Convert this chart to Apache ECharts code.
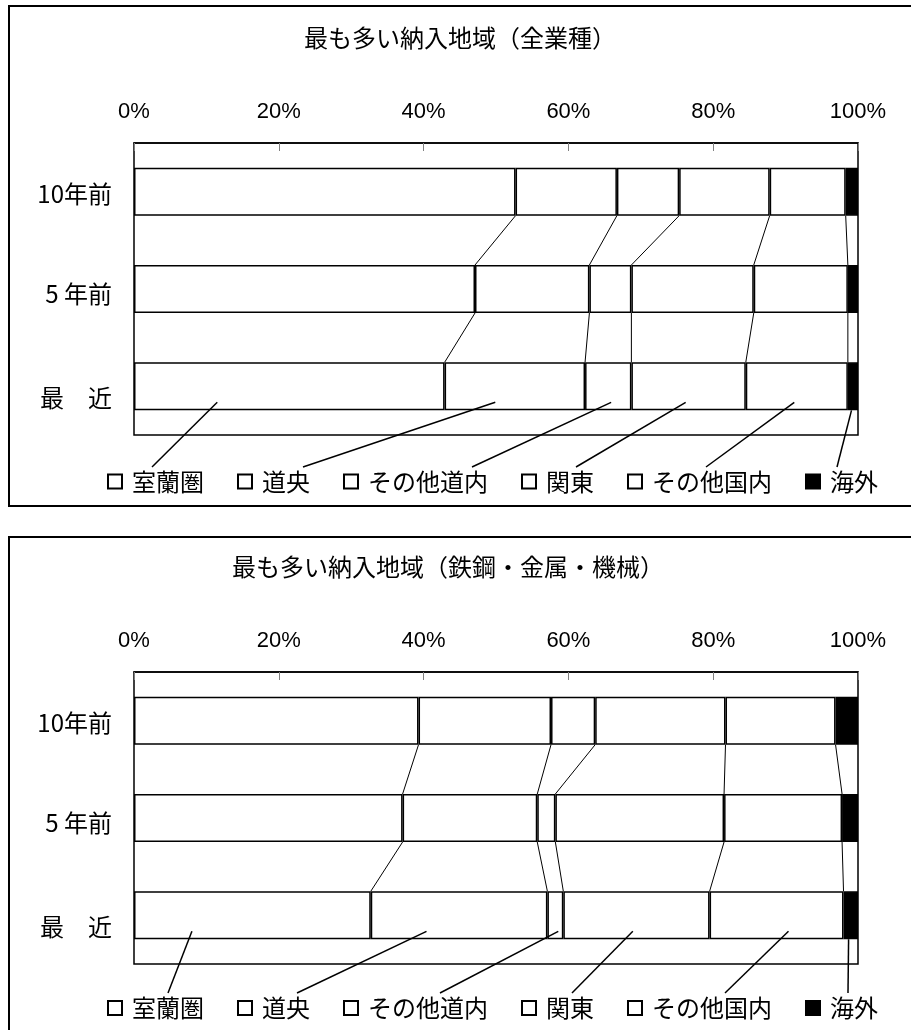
<!DOCTYPE html>
<html><head><meta charset="utf-8">
<script src="https://cdn.jsdelivr.net/npm/echarts@6/dist/echarts.min.js"></script>
<style>html,body{margin:0;padding:0;background:#fff}#c{width:911px;height:1030px}</style>
</head><body><div id="c"></div>
<script>
// ---- data ----
const categories = ['10年前', '5 年前', '最　近'];
const seriesNames = ['室蘭圏', '道央', 'その他道内', '関東', 'その他国内', '海外'];
const titleAll = '最も多い納入地域（全業種）';
const titleSteel = '最も多い納入地域（鉄鋼・金属・機械）';
const xTickStep = 20;

// 全業種 (%) : 10年前, 5年前, 最近
const allMuroran       = [52.7, 47.1, 42.9];
const allDoo           = [14.0, 15.8, 19.4];
const allOtherHokkaido = [8.6, 5.8, 6.4];
const allKanto         = [12.5, 16.9, 15.8];
const allOtherDomestic = [10.5, 13.0, 14.1];
const allOverseas      = [1.7, 1.4, 1.4];

// 鉄鋼・金属・機械 (%) : 10年前, 5年前, 最近
const steelMuroran       = [39.3, 37.1, 32.7];
const steelDoo           = [18.3, 18.6, 24.4];
const steelOtherHokkaido = [6.1, 2.5, 2.2];
const steelKanto         = [18.0, 23.3, 20.2];
const steelOtherDomestic = [15.2, 16.3, 18.5];
const steelOverseas      = [3.1, 2.2, 2.0];

// ---- layout (annotation geometry, not data) ----
const BAR_W = 48;
const LABEL_PAD_TOP = [5, 10, 23];
const FONT = '"Noto Sans CJK JP", "Noto Sans", sans-serif';
const charts = [
  { title: titleAll, titleLeft: 304, titleTop: 26, gridTop: 143, legendTop: 469.5,
    series: [allMuroran, allDoo, allOtherHokkaido, allKanto, allOtherDomestic, allOverseas],
    leaderAnchor: [11.5, 49.9, 65.9, 76.2, 91.2, 99.1],
    leaderEndX: [152, 303, 472, 576, 706, 837], leaderEndY: 467 },
  { title: titleSteel, titleLeft: 232, titleTop: 555, gridTop: 672, legendTop: 996,
    series: [steelMuroran, steelDoo, steelOtherHokkaido, steelKanto, steelOtherDomestic, steelOverseas],
    leaderAnchor: [8.0, 40.4, 58.6, 68.9, 90.4, 98.7],
    leaderEndX: [168, 297, 440, 572, 725, 848], leaderEndY: 993 }
];

const chart = echarts.init(document.getElementById('c'), null, { renderer: 'canvas' });

const option = {
  animation: false,
  backgroundColor: '#fff',
  textStyle: { fontFamily: FONT, color: '#000' },
  title: [], grid: [], xAxis: [], yAxis: [], legend: [], series: []
};

const catRich = {};
LABEL_PAD_TOP.forEach((p, i) => {
  catRich['c' + i] = { fontFamily: FONT, fontSize: 24, color: '#000', padding: [p, 0, 0, 0] };
});

charts.forEach((c, g) => {
  option.title.push({
    text: c.title, left: c.titleLeft, top: c.titleTop, padding: 0,
    textStyle: { fontFamily: FONT, fontSize: 24, fontWeight: 'normal', color: '#000' }
  });
  option.grid.push({
    left: 134, right: 53, top: c.gridTop, height: 292,
    show: true, borderColor: '#000', borderWidth: 1.5, backgroundColor: '#fff'
  });
  option.xAxis.push({
    type: 'value', gridIndex: g, position: 'top', min: 0, max: 100, interval: xTickStep,
    axisLine: { show: true, lineStyle: { color: '#000', width: 1.5 } },
    axisTick: { show: true, inside: true, length: 8, lineStyle: { color: '#808080', width: 1 } },
    splitLine: { show: false },
    axisLabel: { formatter: '{value}%', fontFamily: '"Liberation Sans", Arial, sans-serif',
                 fontSize: 22, color: '#000', margin: 20 }
  });
  option.yAxis.push({
    type: 'category', gridIndex: g, inverse: true, data: categories,
    axisLine: { show: false }, axisTick: { show: false }, splitLine: { show: false },
    axisLabel: { fontFamily: FONT, fontSize: 24, color: '#000', margin: 22,
                 formatter: function (v, idx) { return '{c' + idx + '|' + v + '}'; },
                 rich: catRich }
  });
  option.legend.push({
    data: seriesNames, left: 107, top: c.legendTop, padding: 0,
    icon: 'rect', itemWidth: 14, itemHeight: 14, itemGap: 33,
    selectedMode: false,
    textStyle: { fontFamily: FONT, fontSize: 24, color: '#000', padding: [0, 0, 0, 5] }
  });
  c.series.forEach((vals, i) => {
    const isLast = i === seriesNames.length - 1;
    option.series.push({
      type: 'bar', name: seriesNames[i], xAxisIndex: g, yAxisIndex: g,
      stack: 'stack' + g, barWidth: BAR_W, data: vals,
      itemStyle: { color: isLast ? '#000' : '#fff', borderColor: '#000', borderWidth: 1.5 },
      emphasis: { disabled: true }
    });
  });
  // series lines: connect cumulative boundaries between adjacent bars
  const lineData = [];
  for (let r = 0; r < categories.length - 1; r++) {
    let cu = 0, cl = 0;
    for (let k = 0; k < c.series.length - 1; k++) {
      cu += c.series[k][r]; cl += c.series[k][r + 1];
      lineData.push([cu, cl, r]);
    }
  }
  option.series.push({
    type: 'custom', xAxisIndex: g, yAxisIndex: g, silent: true,
    encode: { x: [0, 1], y: 2 }, data: lineData, z: 5,
    renderItem: function (params, api) {
      const r = api.value(2);
      const p1 = api.coord([api.value(0), r]);
      const p2 = api.coord([api.value(1), r + 1]);
      return { type: 'line',
        shape: { x1: p1[0], y1: p1[1] + BAR_W / 2, x2: p2[0], y2: p2[1] - BAR_W / 2 },
        style: { stroke: '#000', lineWidth: 1 } };
    }
  });
});

chart.setOption(option);

// frames and leader lines (annotation)
const gfx = [
  { type: 'rect', z: -10, shape: { x: 9, y: 6, width: 1000, height: 500 },
    style: { fill: 'none', stroke: '#000', lineWidth: 2 } },
  { type: 'rect', z: -10, shape: { x: 9, y: 537, width: 1000, height: 600 },
    style: { fill: 'none', stroke: '#000', lineWidth: 2 } }
];
charts.forEach((c, g) => {
  c.leaderAnchor.forEach((a, i) => {
    const p = chart.convertToPixel({ xAxisIndex: g, yAxisIndex: g }, [a, 2]);
    const dy = i === c.leaderAnchor.length - 1 ? BAR_W / 2 : 16;
    gfx.push({ type: 'line', z: 100,
      shape: { x1: p[0], y1: p[1] + dy, x2: c.leaderEndX[i], y2: c.leaderEndY },
      style: { stroke: '#000', lineWidth: 1.5 } });
  });
});
chart.setOption({ graphic: gfx });
</script>
</body></html>
